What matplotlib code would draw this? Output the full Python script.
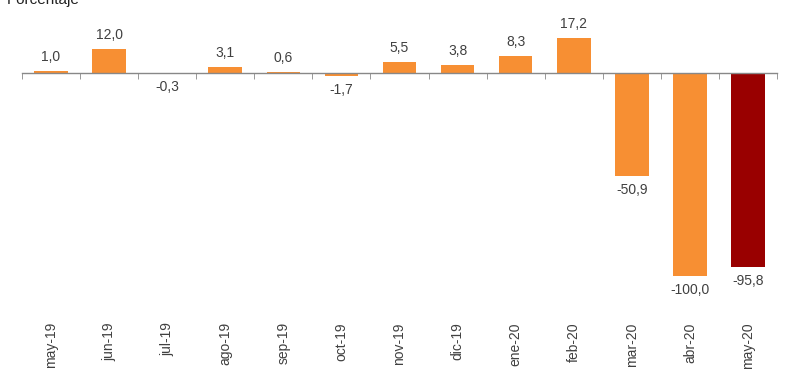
import matplotlib.pyplot as plt
import numpy as np

plt.rcParams['font.family'] = ['Liberation Sans', 'DejaVu Sans']

meses = ['may-19', 'jun-19', 'jul-19', 'ago-19', 'sep-19', 'oct-19', 'nov-19',
         'dic-19', 'ene-20', 'feb-20', 'mar-20', 'abr-20', 'may-20']
valores = [1.0, 12.0, -0.3, 3.1, 0.6, -1.7, 5.5, 3.8, 8.3, 17.2, -50.9, -100.0, -95.8]

naranja = '#F78F33'
granate = '#990000'
colores = [naranja] * (len(meses) - 1) + [granate]
gris_txt = '#404040'

fig = plt.figure(figsize=(8, 3.8), dpi=100)
ax = fig.add_axes([22 / 800, 1 - 290 / 380, 755 / 800, 280 / 380])

x = np.arange(len(meses))
bars = ax.bar(x, valores, width=0.58, color=colores, zorder=2)

ax.set_xlim(-0.5, len(meses) - 0.5)
ax.set_ylim(-107, 31)

for s in ['top', 'right', 'left']:
    ax.spines[s].set_visible(False)
ax.spines['bottom'].set_position(('data', 0))
ax.spines['bottom'].set_color('#888888')
ax.spines['bottom'].set_linewidth(1.0)
ax.set_yticks([])

ax.set_xticks(x)
ax.set_xticklabels([])
ax.tick_params(axis='x', which='major', length=0)
ax.set_xticks(np.arange(len(meses) + 1) - 0.5, minor=True)
ax.tick_params(axis='x', which='minor', length=4, color='#888888', direction='out')

for xi, v in zip(x, valores):
    lbl = f'{v:.1f}'.replace('.', ',')
    if v >= 0:
        ax.annotate(lbl, (xi, v), xytext=(0, 5), textcoords='offset points',
                    ha='center', va='bottom', fontsize=10, color=gris_txt)
    else:
        ax.annotate(lbl, (xi, v), xytext=(0, -5), textcoords='offset points',
                    ha='center', va='top', fontsize=10, color=gris_txt)

tr = ax.get_xaxis_transform()
for xi, m in zip(x, meses):
    ax.text(xi, -0.115, m, transform=tr, rotation=90, ha='center', va='top',
            fontsize=10, color=gris_txt)

fig.text(0.008, 1.0, 'Porcentaje', ha='left', va='center', fontsize=11,
         color='#222222')

fig.savefig('out.png', dpi=100)
